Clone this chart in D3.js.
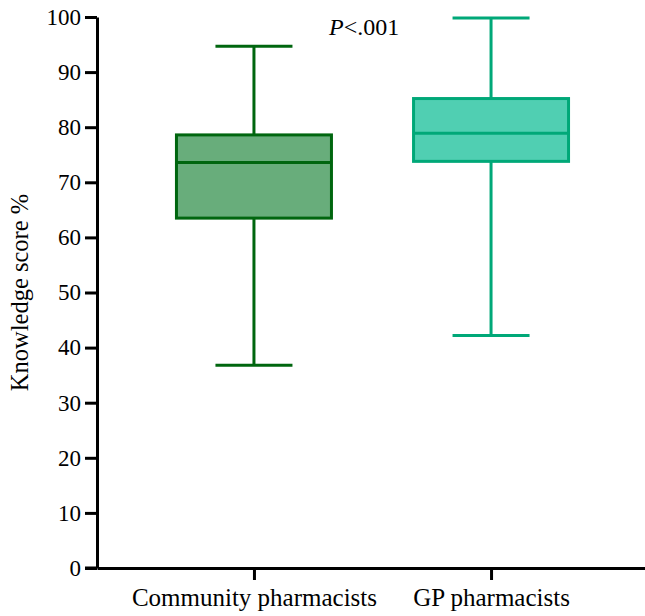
<!DOCTYPE html>
<html lang="en">
<head>
<meta charset="utf-8">
<title>Knowledge score</title>
<script src="https://cdn.jsdelivr.net/npm/d3@7"></script>
<style>
  body { margin: 0; background: #fff; }
  svg text { font-family: "Liberation Serif", Tinos, "Times New Roman", Times, "Noto Serif", "DejaVu Serif", serif; fill: #000; }
</style>
</head>
<body>
<script>
// data
var groups = ["Community pharmacists", "GP pharmacists"];
var mins = [36.8, 42.2];
var q1s = [63.5, 73.8];
var medians = [73.6, 78.9];
var q3s = [78.6, 85.2];
var maxs = [94.7, 99.8];
var yTicks = [0, 10, 20, 30, 40, 50, 60, 70, 80, 90, 100];
var fills = ["#68ad7b", "#50cfb2"];
var strokes = ["#00660f", "#00a878"];

var width = 645, height = 616;
var svg = d3.select("body").append("svg").attr("width", width).attr("height", height);

var y = d3.scaleLinear().domain([0, 100]).range([568, 17]);
var x = d3.scalePoint().domain(groups).range([97, 648]).padding(0.662);
var boxW = 155, capW = 77;

// boxes
var data = groups.map(function (g, i) {
  return { g: g, min: mins[i], q1: q1s[i], med: medians[i], q3: q3s[i], max: maxs[i], fill: fills[i], stroke: strokes[i] };
});

var box = svg.selectAll("g.box").data(data).enter().append("g").attr("class", "box");

// whiskers
box.append("line")
  .attr("x1", function (d) { return x(d.g); }).attr("x2", function (d) { return x(d.g); })
  .attr("y1", function (d) { return y(d.max); }).attr("y2", function (d) { return y(d.min); })
  .attr("stroke", function (d) { return d.stroke; }).attr("stroke-width", 3);
box.selectAll("line.cap").data(function (d) { return [d.min, d.max].map(function (v) { return { v: v, d: d }; }); })
  .enter().append("line")
  .attr("x1", function (c) { return x(c.d.g) - capW / 2; }).attr("x2", function (c) { return x(c.d.g) + capW / 2; })
  .attr("y1", function (c) { return y(c.v); }).attr("y2", function (c) { return y(c.v); })
  .attr("stroke", function (c) { return c.d.stroke; }).attr("stroke-width", 3);

box.append("rect")
  .attr("x", function (d) { return x(d.g) - boxW / 2; })
  .attr("y", function (d) { return y(d.q3); })
  .attr("width", boxW)
  .attr("height", function (d) { return y(d.q1) - y(d.q3); })
  .attr("fill", function (d) { return d.fill; })
  .attr("stroke", function (d) { return d.stroke; }).attr("stroke-width", 3);

box.append("line")
  .attr("x1", function (d) { return x(d.g) - boxW / 2; }).attr("x2", function (d) { return x(d.g) + boxW / 2; })
  .attr("y1", function (d) { return y(d.med); }).attr("y2", function (d) { return y(d.med); })
  .attr("stroke", function (d) { return d.stroke; }).attr("stroke-width", 3);

// y axis
var yA = d3.axisLeft(y).tickValues(yTicks).tickSize(12).tickSizeOuter(0).tickPadding(4);
var gy = svg.append("g").attr("transform", "translate(97,0)").call(yA)
  .attr("font-family", null).attr("font-size", 23);
gy.selectAll("path, line").attr("stroke", "#000").attr("stroke-width", 3);

// x axis
var xA = d3.axisBottom(x).tickSize(12).tickSizeOuter(0).tickPadding(8);
var gx = svg.append("g").attr("transform", "translate(0,568)").call(xA)
  .attr("font-family", null).attr("font-size", 25);
gx.selectAll("path, line").attr("stroke", "#000").attr("stroke-width", 3);
svg.append("line").attr("x1", 85).attr("x2", 97).attr("y1", 568).attr("y2", 568)
  .attr("stroke", "#000").attr("stroke-width", 3);

// y label
svg.append("text")
  .attr("transform", "translate(28," + y(50) + ") rotate(-90)")
  .attr("text-anchor", "middle")
  .attr("font-size", 24.5)
  .text("Knowledge score %");

// p value
var p = svg.append("text").attr("x", 329).attr("y", 35).attr("font-size", 24);
p.append("tspan").attr("font-style", "italic").text("P");
p.append("tspan").text("<.001");
</script>
</body>
</html>
